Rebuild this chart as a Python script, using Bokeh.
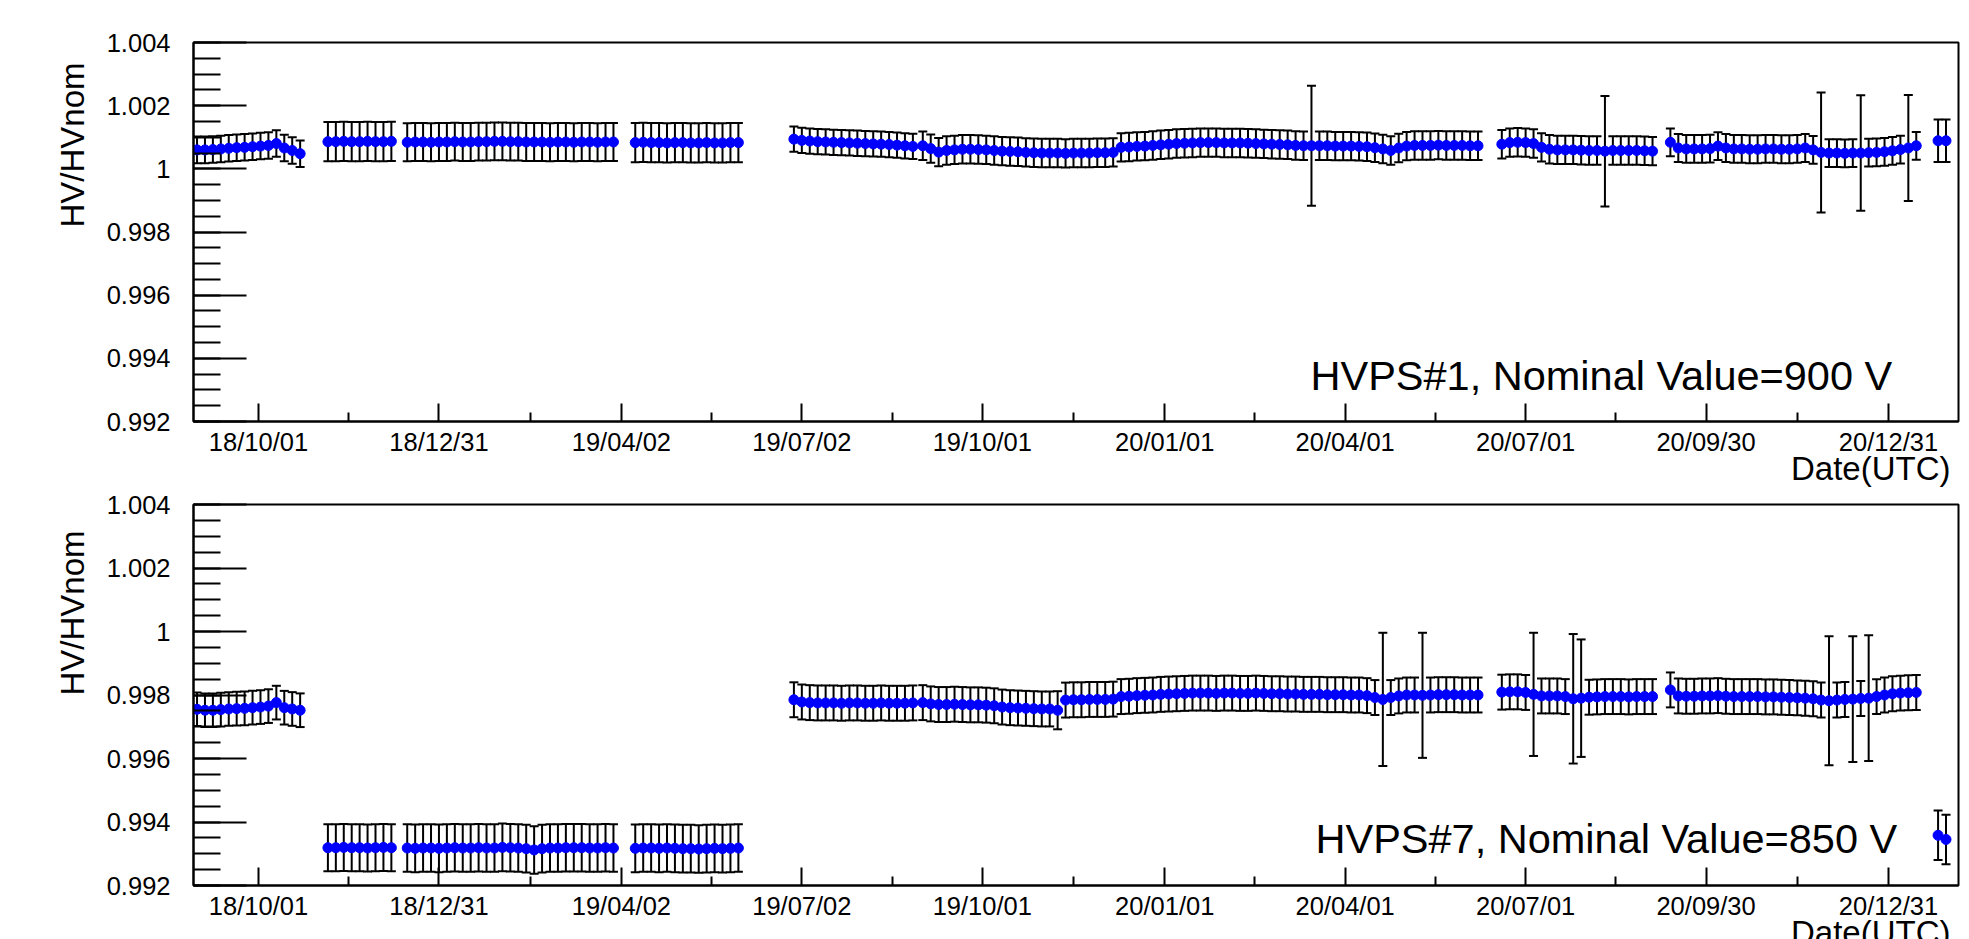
import numpy as np
import pandas as pd
from bokeh.plotting import figure
from bokeh.layouts import column
from bokeh.models import (ColumnDataSource, Whisker, TeeHead, FixedTicker, Range1d,
                          DatetimeTickFormatter, CustomJSTickFormatter, Label, Title)
from bokeh.embed import file_html
from bokeh.resources import INLINE

# ---------------- data ----------------
# sampling: segments of regularly spaced measurements (start date, number of points)
SEG_STARTS = ["2018-08-31", "2018-11-05", "2018-12-15", "2019-04-09", "2019-06-28",
              "2019-09-01", "2020-06-19", "2020-09-12", "2021-01-25"]
SEG_COUNTS = [14, 9, 27, 14, 16, 71, 20, 32, 2]
STEP_DAYS = 4

X_TICKS = ["2018-10-01", "2018-12-31", "2019-04-02", "2019-07-02", "2019-10-01",
           "2020-01-01", "2020-04-01", "2020-07-01", "2020-09-30", "2020-12-31"]
X_START = "2018-08-29 05:17"
X_END = "2021-02-04 07:12"
Y_TICKS = [0.992, 0.994, 0.996, 0.998, 1.0, 1.002, 1.004]

# HVPS#1 (900 V)
HV1_SEGS = [
    [1.00060, 1.00060, 1.00061, 1.00063, 1.00065, 1.00067, 1.00068, 1.00070, 1.00072, 1.00074,
     1.00080, 1.00066, 1.00058, 1.00048],
    [1.00086, 1.00086, 1.00087, 1.00086, 1.00086, 1.00087, 1.00086, 1.00086, 1.00087],
    [1.00084, 1.00085, 1.00085, 1.00084, 1.00085, 1.00085, 1.00086, 1.00085, 1.00085, 1.00086,
     1.00086, 1.00087, 1.00087, 1.00086, 1.00086, 1.00085, 1.00085, 1.00085, 1.00084, 1.00085,
     1.00085, 1.00084, 1.00085, 1.00085, 1.00084, 1.00085, 1.00085],
    [1.00083, 1.00084, 1.00083, 1.00083, 1.00082, 1.00083, 1.00083, 1.00082, 1.00082, 1.00083,
     1.00082, 1.00082, 1.00083, 1.00083],
    [1.00094, 1.00090, 1.00088, 1.00086, 1.00085, 1.00084, 1.00083, 1.00082, 1.00081, 1.00080,
     1.00079, 1.00078, 1.00077, 1.00075, 1.00073, 1.00071],
    [1.00073, 1.00064, 1.00053, 1.00058, 1.00060, 1.00062, 1.00062, 1.00061, 1.00060, 1.00058,
     1.00056, 1.00055, 1.00054, 1.00052, 1.00051, 1.00050, 1.00050, 1.00050, 1.00049, 1.00050,
     1.00050, 1.00050, 1.00051, 1.00051, 1.00052, 1.00068, 1.00069, 1.00071, 1.00072, 1.00074,
     1.00076, 1.00078, 1.00080, 1.00081, 1.00082, 1.00083, 1.00083, 1.00083, 1.00082, 1.00082,
     1.00082, 1.00081, 1.00080, 1.00079, 1.00078, 1.00077, 1.00076, 1.00074, 1.00073, 1.00073,
     1.00073, 1.00073, 1.00072, 1.00072, 1.00072, 1.00071, 1.00070, 1.00067, 1.00063, 1.00058,
     1.00066, 1.00072, 1.00074, 1.00074, 1.00074, 1.00075, 1.00074, 1.00074, 1.00074, 1.00073,
     1.00073],
    [1.00078, 1.00083, 1.00084, 1.00083, 1.00080, 1.00068, 1.00062, 1.00060, 1.00060, 1.00060,
     1.00059, 1.00058, 1.00058, 1.00056, 1.00058, 1.00058, 1.00058, 1.00058, 1.00057, 1.00056],
    [1.00084, 1.00066, 1.00063, 1.00063, 1.00063, 1.00064, 1.00072, 1.00066, 1.00063, 1.00063,
     1.00062, 1.00062, 1.00063, 1.00063, 1.00062, 1.00062, 1.00063, 1.00066, 1.00060, 1.00052,
     1.00050, 1.00050, 1.00049, 1.00050, 1.00050, 1.00051, 1.00052, 1.00054, 1.00057, 1.00061,
     1.00066, 1.00073],
    [1.00089, 1.00089],
]
HV1_ERR_BASE = [0.00042, 0.00062, 0.00060, 0.00062, 0.00040, 0.00045, 0.00045, 0.00044, 0.00067]
HV1_ERR_BIG = {(5, 49): 0.00190, (6, 13): 0.00175, (7, 19): 0.00190, (7, 24): 0.00183, (7, 30): 0.00168}

# HVPS#7 (850 V)
HV7_SEGS = [
    [0.99755, 0.99752, 0.99752, 0.99754, 0.99756, 0.99757, 0.99758, 0.99760, 0.99762, 0.99765,
     0.99776, 0.99760, 0.99756, 0.99752],
    [0.99319, 0.99319, 0.99320, 0.99319, 0.99319, 0.99318, 0.99319, 0.99320, 0.99319],
    [0.99318, 0.99317, 0.99318, 0.99318, 0.99317, 0.99318, 0.99319, 0.99318, 0.99318, 0.99319,
     0.99318, 0.99318, 0.99320, 0.99319, 0.99318, 0.99316, 0.99312, 0.99316, 0.99318, 0.99318,
     0.99319, 0.99319, 0.99319, 0.99318, 0.99318, 0.99319, 0.99318],
    [0.99317, 0.99318, 0.99318, 0.99317, 0.99318, 0.99317, 0.99316, 0.99316, 0.99315, 0.99316,
     0.99317, 0.99316, 0.99317, 0.99318],
    [0.99785, 0.99778, 0.99776, 0.99775, 0.99775, 0.99775, 0.99774, 0.99775, 0.99775, 0.99774,
     0.99774, 0.99775, 0.99774, 0.99774, 0.99774, 0.99775],
    [0.99776, 0.99772, 0.99770, 0.99770, 0.99771, 0.99770, 0.99769, 0.99769, 0.99768, 0.99766,
     0.99762, 0.99760, 0.99759, 0.99758, 0.99757, 0.99756, 0.99756, 0.99752, 0.99784, 0.99785,
     0.99785, 0.99786, 0.99786, 0.99786, 0.99787, 0.99795, 0.99796, 0.99798, 0.99799, 0.99800,
     0.99802, 0.99803, 0.99804, 0.99805, 0.99806, 0.99806, 0.99806, 0.99805, 0.99806, 0.99806,
     0.99805, 0.99805, 0.99806, 0.99805, 0.99804, 0.99804, 0.99803, 0.99803, 0.99802, 0.99802,
     0.99802, 0.99801, 0.99801, 0.99801, 0.99800, 0.99800, 0.99798, 0.99792, 0.99786, 0.99792,
     0.99797, 0.99800, 0.99800, 0.99799, 0.99800, 0.99801, 0.99801, 0.99801, 0.99800, 0.99800,
     0.99800],
    [0.99809, 0.99810, 0.99810, 0.99808, 0.99802, 0.99797, 0.99797, 0.99797, 0.99795, 0.99788,
     0.99790, 0.99793, 0.99794, 0.99795, 0.99795, 0.99795, 0.99794, 0.99795, 0.99795, 0.99795],
    [0.99816, 0.99797, 0.99796, 0.99796, 0.99797, 0.99797, 0.99798, 0.99796, 0.99795, 0.99795,
     0.99795, 0.99795, 0.99794, 0.99794, 0.99793, 0.99792, 0.99791, 0.99790, 0.99788, 0.99784,
     0.99782, 0.99784, 0.99786, 0.99787, 0.99789, 0.99790, 0.99795, 0.99800, 0.99804, 0.99806,
     0.99807, 0.99808],
    [0.99358, 0.99345],
]
HV7_ERR_BASE = [0.00053, 0.00074, 0.00075, 0.00075, 0.00055, 0.00055, 0.00055, 0.00055, 0.00078]
HV7_ERR_BIG = {(5, 17): 0.00060, (5, 58): 0.00210, (5, 63): 0.00197, (6, 4): 0.00194,
               (6, 9): 0.00204, (6, 10): 0.00185, (7, 20): 0.00203, (7, 23): 0.00198,
               (7, 25): 0.00198}

TITLE_1 = "HVPS#1, Nominal Value=900 V"
TITLE_7 = "HVPS#7, Nominal Value=850 V"
Y_TITLE = "HV/HVnom"
X_TITLE = "Date(UTC)"

# ---------------- helpers ----------------
def ms(d):
    return pd.Timestamp(d).value / 1e6

def build(segs, base, big):
    xs, ys, es = [], [], []
    for k, (start, n, vals) in enumerate(zip(SEG_STARTS, SEG_COUNTS, segs)):
        dates = pd.date_range(start, periods=n, freq=f"{STEP_DAYS}D")
        for i, (d, v) in enumerate(zip(dates, vals)):
            xs.append(d)
            ys.append(v)
            es.append(big.get((k, i), base[k]))
    ys = np.array(ys)
    es = np.array(es)
    return ColumnDataSource(dict(x=xs, y=ys, lo=ys - es, hi=ys + es))

X0, X1 = ms(X_START), ms(X_END)
W = 1969
FRAME_L, FRAME_R = 193, 1958
MS_PER_PX = (X1 - X0) / (FRAME_R - FRAME_L)

def px2x(px):
    return X0 + (px - FRAME_L) * MS_PER_PX

tick_ms = [ms(d) for d in X_TICKS]
minor_ms = [(a + b) / 2 for a, b in zip(tick_ms[:-1], tick_ms[1:])]
y_minor = [round(v, 4) for v in np.arange(0.992, 1.00401, 0.0005)]

FONT = "Liberation Sans"
fmt = "%y/%m/%d"


def make_fig(height, btop, bbot):
    p = figure(width=W, height=height, x_axis_type="datetime",
               x_range=Range1d(X0, X1), y_range=Range1d(0.992, 1.004),
               output_backend="svg", toolbar_location=None,
               min_border_left=FRAME_L, min_border_right=W - FRAME_R,
               min_border_top=btop, min_border_bottom=bbot)
    p.xgrid.visible = False
    p.ygrid.visible = False
    p.outline_line_color = "black"
    p.outline_line_width = 2
    p.background_fill_color = "white"
    p.border_fill_color = "white"

    xa = p.xaxis[0]
    xa.ticker = FixedTicker(ticks=tick_ms, minor_ticks=minor_ms)
    xa.formatter = DatetimeTickFormatter(microseconds=fmt, milliseconds=fmt, seconds=fmt,
                                         minsec=fmt, minutes=fmt, hourmin=fmt, hours=fmt,
                                         days=fmt, months=fmt, years=fmt)
    xa.major_tick_in = 18
    xa.major_tick_out = 0
    xa.minor_tick_in = 9
    xa.minor_tick_out = 0
    xa.major_label_standoff = 6

    ya = p.yaxis[0]
    ya.ticker = FixedTicker(ticks=Y_TICKS, minor_ticks=y_minor)
    ya.formatter = CustomJSTickFormatter(
        code="return tick.toFixed(3).replace(/0+$/, '').replace(/\\.$/, '');")
    ya.major_tick_in = 53
    ya.major_tick_out = 0
    ya.minor_tick_in = 27
    ya.minor_tick_out = 0
    ya.major_label_standoff = 23

    for ax in (xa, ya):
        ax.axis_line_width = 2
        ax.axis_line_color = "black"
        ax.major_tick_line_width = 2
        ax.minor_tick_line_width = 2
        ax.major_tick_line_color = "black"
        ax.minor_tick_line_color = "black"
        ax.major_label_text_font = FONT
        ax.major_label_text_font_size = "25.5px"
        ax.major_label_text_color = "black"
    return p


def add_data(p, src):
    w = Whisker(source=src, base="x", lower="lo", upper="hi", dimension="height",
                line_color="black", line_width=2, level="underlay",
                upper_head=TeeHead(size=9, line_width=2, line_color="black"),
                lower_head=TeeHead(size=9, line_width=2, line_color="black"))
    p.add_layout(w)
    p.scatter("x", "y", source=src, size=10, fill_color="#0000ff",
              line_color="#0000ff", line_width=1)


def add_titles(p, y_offset):
    p.add_layout(Title(text=Y_TITLE, align="right", vertical_align="bottom",
                       offset=y_offset, standoff=26, text_font=FONT,
                       text_font_size="33px", text_font_style="normal",
                       text_color="black"), "left")
    p.add_layout(Title(text=X_TITLE, align="right", vertical_align="top",
                       offset=8, standoff=-17, text_font=FONT,
                       text_font_size="33px", text_font_style="normal",
                       text_color="black"), "below")


def add_name(p, px, y, text):
    p.add_layout(Label(x=px2x(px), y=y, text=text, text_align="left",
                       text_baseline="alphabetic", text_font=FONT,
                       text_font_size="41.5px", text_color="black"))


# ---------------- top panel ----------------
TOP1, FR1 = 42, 379
H1 = 490
p1 = make_fig(H1, TOP1, H1 - TOP1 - FR1)
add_data(p1, build(HV1_SEGS, HV1_ERR_BASE, HV1_ERR_BIG))
add_titles(p1, 20)
add_name(p1, 1310, 1.004 - (375 - TOP1) * 0.012 / FR1, TITLE_1)

# ---------------- bottom panel ----------------
TOP2, FR2 = 504 - H1, 381
H2 = 465
p2 = make_fig(H2, TOP2, H2 - TOP2 - FR2)
add_data(p2, build(HV7_SEGS, HV7_ERR_BASE, HV7_ERR_BIG))
add_titles(p2, 26)
add_name(p2, 1315, 1.004 - (838 - 504) * 0.012 / FR2, TITLE_7)

layout = column(p1, p2)
html = file_html(layout, INLINE)
html = html.replace("</head>", "<style>html, body { overflow: hidden; }</style></head>", 1)
open("out.html", "w").write(html)
